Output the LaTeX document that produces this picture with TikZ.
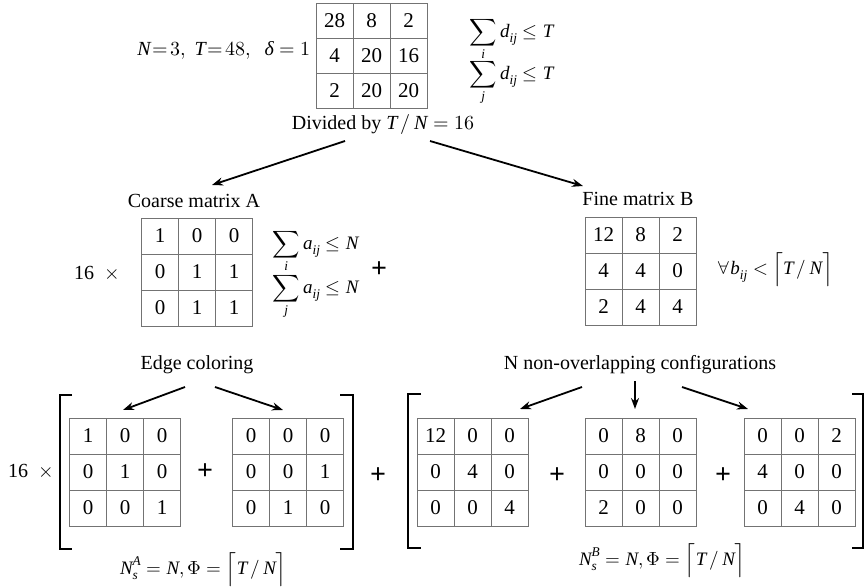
\documentclass[tikz,border=0pt]{standalone}
\usepackage{amsmath}
\usepackage{fontspec}
\usepackage{unicode-math}
\setmainfont{Liberation Serif}
\setmathfont{Latin Modern Math}
\newfontfamily\tnr{Liberation Serif}
\usetikzlibrary{matrix,arrows.meta}
\newcommand\mi[1]{\textit{#1}}
\newcommand\bigsum{\mathop{\displaystyle\sum}\limits}
\tikzset{
  mat/.style={matrix of nodes, nodes in empty cells, row sep=-0.8pt, column sep=-0.8pt,
    nodes={draw=black!55, line width=0.8pt, minimum width=37pt, minimum height=36pt,
      inner sep=0pt, anchor=center, font=\tnr\fontsize{21}{24}\selectfont}},
  arr/.style={line width=1.8pt, -{Stealth[length=11pt,width=8pt]}},
  brk/.style={line width=2.6pt},
  plus/.style={font=\tnr\fontsize{28}{28}\selectfont\bfseries},
  txt/.style={font=\tnr\fontsize{20}{24}\selectfont},
  eq/.style={font=\tnr\fontsize{19}{22}\selectfont},
}
\begin{document}
\begin{tikzpicture}[x=1pt,y=-1pt]
\useasboundingbox (0,0) rectangle (865,588);
% top
\node[txt] (par) at (224,50) {$\mi{N}\!=\!3,\ \mi{T}\!=\!48,\ \ \mi{δ}=1$};
\matrix (D) [mat, nodes={minimum height=35pt}] at (371.5,55.5) {28 & 8 & 2\\ 4 & 20 & 16\\ 2 & 20 & 20\\};
\node[eq, anchor=base west] (sd1) at (466,38) {$\bigsum_{\mi{i}} \mi{d}_{\mi{ij}} \le \mi{T}$};
\node[eq, anchor=base west] (sd2) at (466,80) {$\bigsum_{\mi{j}} \mi{d}_{\mi{ij}} \le \mi{T}$};
\node[txt] (div) at (383,125) {Divided by $\mi{T}\,/\,\mi{N}=16$};
\coordinate (dl) at (345,141);
\coordinate (dr) at (430,141);
\coordinate (cl) at (212,185);
\coordinate (cr) at (583,186);
\draw[arr] (dl) -- (cl);
\draw[arr] (dr) -- (cr);
% middle
\node[txt] (ca) at (194,201) {Coarse matrix A};
\node[txt] (fb) at (638,199) {Fine matrix B};
\node[txt] (m16a) at (97,273) {16\ \ $\times$};
\matrix (A) [mat] at (197,272) {1 & 0 & 0\\ 0 & 1 & 1\\ 0 & 1 & 1\\};
\node[eq, anchor=base west] (sa1) at (269,250) {$\bigsum_{\mi{i}} \mi{a}_{\mi{ij}} \le \mi{N}$};
\node[eq, anchor=base west] (sa2) at (269,294) {$\bigsum_{\mi{j}} \mi{a}_{\mi{ij}} \le \mi{N}$};
\node[plus] (p0) at (379,270) {+};
\matrix (B) [mat] at (640.5,271) {12 & 8 & 2\\ 4 & 4 & 0\\ 2 & 4 & 4\\};
\node[eq] (fa) at (775,270) {$\forall \mi{b}_{\mi{ij}} < \Big\lceil \mi{T}\,/\,\mi{N}\Big\rceil$};
% bottom labels
\node[txt] (ec) at (197,365) {Edge coloring};
\node[txt] (nc) at (640,365) {N non-overlapping configurations};
\coordinate (e1s) at (185,387);
\coordinate (e1t) at (123,410);
\coordinate (e2s) at (215,387);
\coordinate (e2t) at (283,410);
\draw[arr] (e1s) -- (e1t);
\draw[arr] (e2s) -- (e2t);
\coordinate (n1s) at (582,387);
\coordinate (n1t) at (520,409);
\coordinate (n2s) at (635,381);
\coordinate (n2t) at (635,409);
\coordinate (n3s) at (682,387);
\coordinate (n3t) at (748,409);
\draw[arr] (n1s) -- (n1t);
\draw[arr] (n2s) -- (n2t);
\draw[arr] (n3s) -- (n3t);
% bottom row
\node[txt] (m16b) at (31,471) {16\ \ $\times$};
\draw[brk] (72,395) -- (60,395) -- (60,549) -- (72,549);
\matrix (E1) [mat] at (125,472) {1 & 0 & 0\\ 0 & 1 & 0\\ 0 & 0 & 1\\};
\node[plus] (p1) at (205,472) {+};
\matrix (E2) [mat] at (288,472) {0 & 0 & 0\\ 0 & 0 & 1\\ 0 & 1 & 0\\};
\draw[brk] (340,395) -- (353,395) -- (353,549) -- (340,549);
\node[plus] (p2) at (378,476) {+};
\draw[brk] (421,394) -- (408,394) -- (408,548) -- (421,548);
\matrix (F1) [mat] at (472.5,472) {12 & 0 & 0\\ 0 & 4 & 0\\ 0 & 0 & 4\\};
\node[plus] (p3) at (557,476) {+};
\matrix (F2) [mat] at (640.5,472) {0 & 8 & 0\\ 0 & 0 & 0\\ 2 & 0 & 0\\};
\node[plus] (p4) at (723,476) {+};
\matrix (F3) [mat] at (799.5,472) {0 & 0 & 2\\ 4 & 0 & 0\\ 0 & 4 & 0\\};
\draw[brk] (852,394) -- (863,394) -- (863,548) -- (852,548);
\node[eq] (nsa) at (203,570) {$\mi{N}_{\mi{s}}^{\mi{A}} = \mi{N}, \Phi = \Big\lceil \mi{T}\,/\,\mi{N}\Big\rceil$};
\node[eq] (nsb) at (662,561) {$\mi{N}_{\mi{s}}^{\mi{B}} = \mi{N}, \Phi = \Big\lceil \mi{T}\,/\,\mi{N}\Big\rceil$};
\end{tikzpicture}
\end{document}
